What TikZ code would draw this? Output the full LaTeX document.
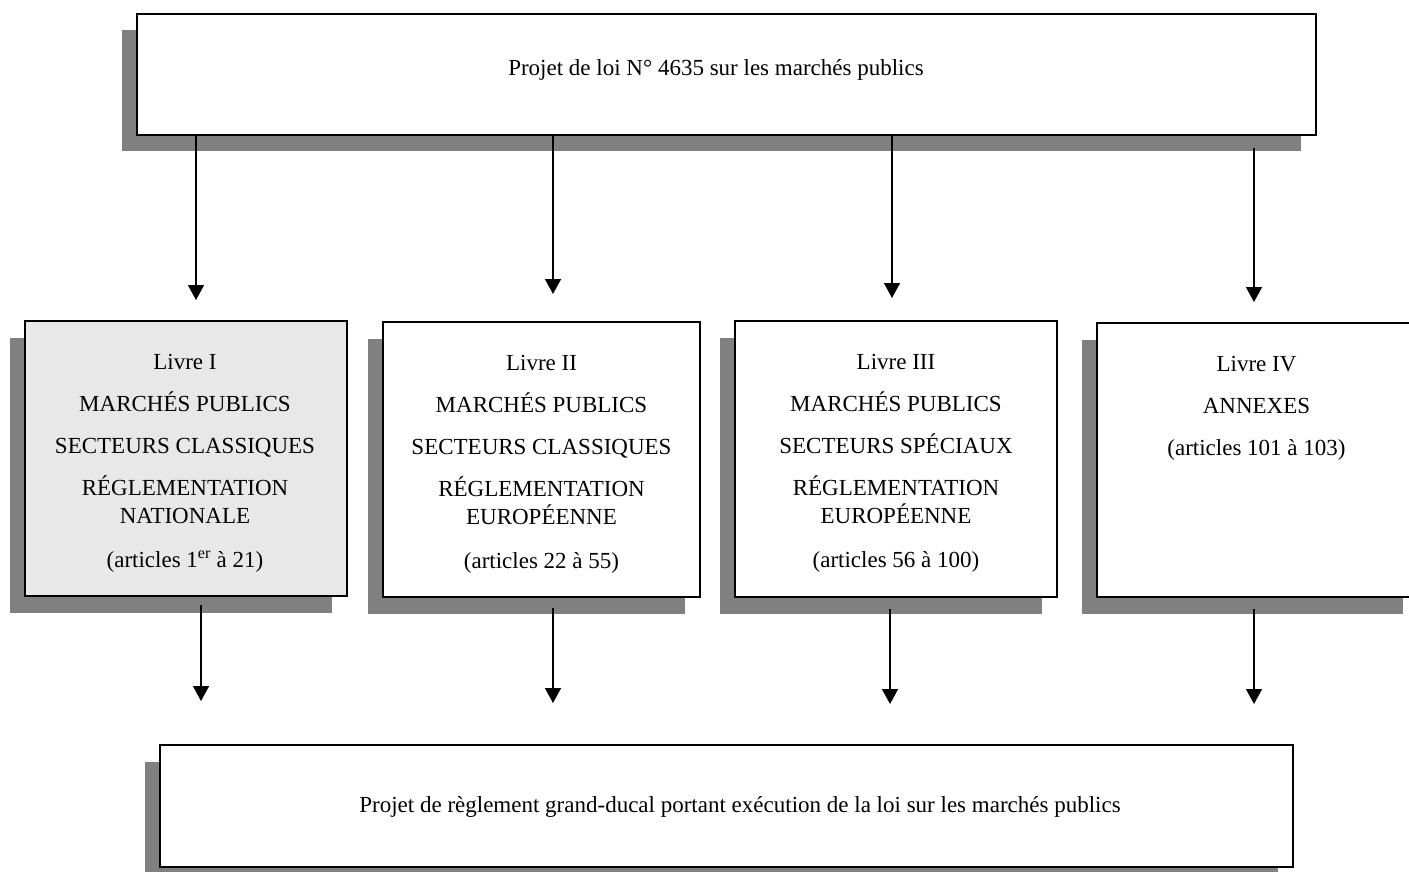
\documentclass[tikz,border=0pt]{standalone}
\usepackage{fontspec}
\setmainfont{Liberation Serif}
\usetikzlibrary{arrows.meta,shadows,calc}
\definecolor{shadowgray}{HTML}{808080}
\definecolor{lightfill}{HTML}{E8E8E8}
\begin{document}
\begin{tikzpicture}[x=1pt,y=-1pt,
  box/.style={draw=black,line width=1.6pt,fill=white,inner sep=0pt,
    drop shadow={shadow xshift=-15.5pt,shadow yshift=-16.5pt,fill=shadowgray,opacity=1}},
  txt/.style={inner sep=0pt,align=center,font=\fontsize{23}{28}\selectfont},
  conn/.style={line width=1.6pt,-{Triangle[width=16pt,length=15pt]}}]
\useasboundingbox (0,0) rectangle (1409,872);
% boxes
\node[box,minimum width=1179pt,minimum height=121pt] (top) at (726.5,74.5) {};
\node[box,fill=lightfill,minimum width=322pt,minimum height=275pt] (L1) at (186,458.5) {};
\node[box,minimum width=317pt,minimum height=275pt] (L2) at (541.5,459.5) {};
\node[box,minimum width=322pt,minimum height=276pt] (L3) at (896,459) {};
\node[box,minimum width=321pt,minimum height=274pt] (L4) at (1257.5,460) {};
\node[box,minimum width=1133pt,minimum height=122pt] (bot) at (726.5,806) {};
% texts
\node[txt,anchor=base] (toptext) at (716,76) {Projet de loi N° 4635 sur les marchés publics};
\node[txt,anchor=base] (bottext) at (740,812) {Projet de règlement grand-ducal portant exécution de la loi sur les marchés publics};
\node[txt,anchor=north] (L1text) at (185,354) {Livre I\\[14pt] MARCHÉS PUBLICS\\[14pt] SECTEURS CLASSIQUES\\[14pt] RÉGLEMENTATION\\ NATIONALE\\[16pt] (articles 1\textsuperscript{er} à 21)};
\node[txt,anchor=north] (L2text) at (541.5,355) {Livre II\\[14pt] MARCHÉS PUBLICS\\[14pt] SECTEURS CLASSIQUES\\[14pt] RÉGLEMENTATION\\ EUROPÉENNE\\[16pt] (articles 22 à 55)};
\node[txt,anchor=north] (L3text) at (896,354) {Livre III\\[14pt] MARCHÉS PUBLICS\\[14pt] SECTEURS SPÉCIAUX\\[14pt] RÉGLEMENTATION\\ EUROPÉENNE\\[16pt] (articles 56 à 100)};
\node[txt,anchor=north] (L4text) at (1256.5,356) {Livre IV\\[14pt] ANNEXES\\[14pt] (articles 101 à 103)};
% arrow end points
\coordinate (a1) at (196,300);
\coordinate (a2) at (553,294);
\coordinate (a3) at (892,298);
\coordinate (a4) at (1254,302);
\coordinate (a4s) at (1254,148);
\coordinate (b1) at (201,701);
\coordinate (b2) at (553,703);
\coordinate (b3) at (890,704);
\coordinate (b4) at (1254,704);
\coordinate (b1s) at (201,605);
\coordinate (b2s) at (553,608);
\coordinate (b3s) at (890,609);
\coordinate (b4s) at (1254,609);
% connectors
\draw[conn] (top.south -| a1) -- (a1);
\draw[conn] (top.south -| a2) -- (a2);
\draw[conn] (top.south -| a3) -- (a3);
\draw[conn] (a4s) -- (a4);
\draw[conn] (b1s) -- (b1);
\draw[conn] (b2s) -- (b2);
\draw[conn] (b3s) -- (b3);
\draw[conn] (b4s) -- (b4);
\end{tikzpicture}
\end{document}
